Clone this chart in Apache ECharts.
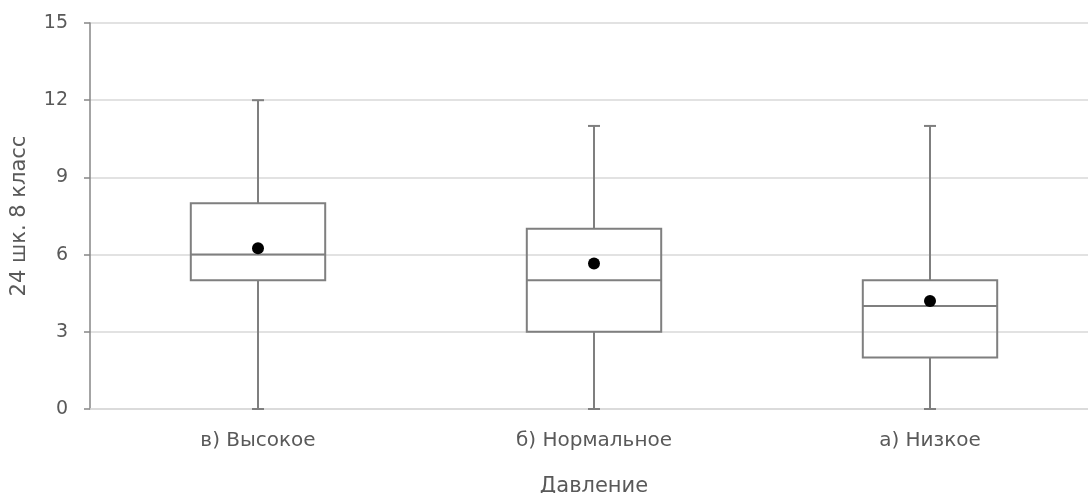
<!DOCTYPE html>
<html>
<head>
<meta charset="utf-8">
<script src="https://cdn.jsdelivr.net/npm/echarts@6/dist/echarts.min.js"></script>
<style>
  html, body { margin: 0; padding: 0; background: #ffffff; }
  #chart { width: 1088px; height: 493px; }
</style>
</head>
<body>
<div id="chart"></div>
<script>
// Groups by pressure level
const categories = ['в) Высокое', 'б) Нормальное', 'а) Низкое'];
// Five-number summaries per group
const whiskerLow = [0, 0, 0];
const quartile1 = [5, 3, 2];
const medians = [6, 5, 4];
const quartile3 = [8, 7, 5];
const whiskerHigh = [12, 11, 11];
// Group means
const means = [6.25, 5.65, 4.2];
// Value axis ticks
const yTicks = [0, 3, 6, 9, 12, 15];

const boxData = categories.map((c, i) => [i, whiskerLow[i], quartile1[i], medians[i], quartile3[i], whiskerHigh[i]]);
const meanData = categories.map((c, i) => [i, means[i]]);

const strokeColor = '#7f7f7f';
const textColor = '#595959';
const fontFamily = 'DejaVu Sans, sans-serif';

function renderBox(params, api) {
  const idx = api.value(0);
  const pLow = api.coord([idx, api.value(1)]);
  const pQ1 = api.coord([idx, api.value(2)]);
  const pMed = api.coord([idx, api.value(3)]);
  const pQ3 = api.coord([idx, api.value(4)]);
  const pHigh = api.coord([idx, api.value(5)]);
  const bandW = api.size([1, 0])[0];
  const half = bandW * 0.2;
  const cap = 6;
  const x = pMed[0];
  const lineStyle = { stroke: strokeColor, lineWidth: 2, fill: null };
  return {
    type: 'group',
    children: [
      { type: 'line', shape: { x1: x, y1: pLow[1], x2: x, y2: pQ1[1] }, style: lineStyle },
      { type: 'line', shape: { x1: x, y1: pQ3[1], x2: x, y2: pHigh[1] }, style: lineStyle },
      { type: 'line', shape: { x1: x - cap, y1: pLow[1], x2: x + cap, y2: pLow[1] }, style: lineStyle },
      { type: 'line', shape: { x1: x - cap, y1: pHigh[1], x2: x + cap, y2: pHigh[1] }, style: lineStyle },
      { type: 'rect', shape: { x: x - half, y: pQ3[1], width: half * 2, height: pQ1[1] - pQ3[1] },
        style: { stroke: strokeColor, lineWidth: 2, fill: 'rgba(255,255,255,0)' } },
      { type: 'line', shape: { x1: x - half, y1: pMed[1], x2: x + half, y2: pMed[1] }, style: lineStyle }
    ]
  };
}

const chart = echarts.init(document.getElementById('chart'));
chart.setOption({
  animation: false,
  backgroundColor: '#ffffff',
  grid: { left: 90, top: 23, width: 1008, bottom: 84, outerBoundsMode: 'none', containLabel: false },
  xAxis: {
    type: 'category',
    data: categories,
    name: 'Давление',
    nameLocation: 'middle',
    nameGap: 67,
    nameTextStyle: { fontSize: 21, color: textColor, fontFamily },
    axisLine: { show: true, lineStyle: { color: '#d9d9d9', width: 1.5 } },
    axisTick: { show: false },
    axisLabel: { fontSize: 20, color: textColor, fontFamily, margin: 22 },
    splitLine: { show: false }
  },
  yAxis: {
    type: 'value',
    min: yTicks[0],
    max: yTicks[yTicks.length - 1],
    interval: 3,
    name: '24 шк. 8 класс',
    nameLocation: 'middle',
    nameGap: 60,
    nameRotate: 90,
    nameTextStyle: { fontSize: 21, color: textColor, fontFamily },
    axisLine: { show: true, lineStyle: { color: '#868686', width: 1.5 } },
    axisTick: { show: true, length: 6, lineStyle: { color: '#868686', width: 1.5 } },
    axisLabel: { fontSize: 19, color: textColor, fontFamily, margin: 22 },
    splitLine: { show: true, lineStyle: { color: '#d9d9d9', width: 1.5 } }
  },
  series: [
    {
      type: 'custom',
      renderItem: renderBox,
      data: boxData,
      encode: { x: 0, y: [1, 2, 3, 4, 5] },
      z: 2
    },
    {
      type: 'scatter',
      data: meanData,
      symbol: 'circle',
      symbolSize: 12,
      itemStyle: { color: '#000000', opacity: 1 },
      z: 3
    }
  ]
});
</script>
</body>
</html>
